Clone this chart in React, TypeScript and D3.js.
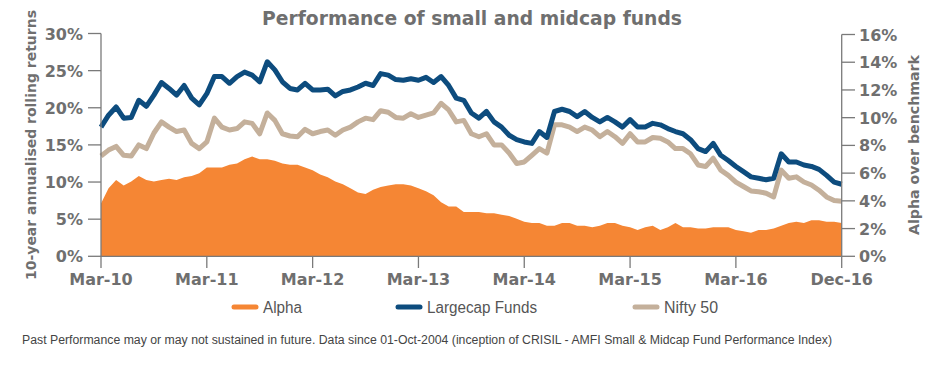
import React from 'react';
import * as d3 from 'd3';

// x axis labels (equally spaced over the series)
const xLabels = ['Mar-10', 'Mar-11', 'Mar-12', 'Mar-13', 'Mar-14', 'Mar-15', 'Mar-16', 'Dec-16'];
const leftTicks = [0, 5, 10, 15, 20, 25, 30];
const rightTicks = [0, 2, 4, 6, 8, 10, 12, 14, 16];

// 10-year annualised rolling returns (%), left axis
const largecap = [
  17.4, 19.0, 20.1, 18.6, 18.7, 21.0, 20.2, 21.7, 23.4, 22.6, 21.7, 23.0, 21.3, 20.4, 21.9, 24.2, 24.2, 23.3, 24.2, 24.8, 24.4, 23.5, 26.2, 25.1, 23.5,
  22.6, 22.4, 23.3, 22.4, 22.4, 22.5, 21.6, 22.2, 22.4, 22.8, 23.3, 23.0, 24.6, 24.4, 23.8, 23.7, 23.9, 23.7, 24.1, 23.4, 24.2, 23.0, 21.3, 21.0, 19.3,
  18.6, 19.5, 18.1, 17.4, 16.3, 15.7, 15.4, 15.2, 16.8, 16.0, 19.5, 19.8, 19.5, 18.8, 19.5, 18.7, 18.1, 18.7, 18.1, 17.4, 18.4, 17.4, 17.4, 17.9,
  17.7, 17.2, 16.8, 16.5, 15.7, 14.5, 14.1, 15.2, 13.6, 12.9, 12.1, 11.4, 10.7, 10.5, 10.3, 10.5, 13.8, 12.7, 12.7, 12.3, 12.1, 11.7, 10.9, 10.0, 9.7,
];
const nifty = [
  13.5, 14.3, 14.8, 13.6, 13.5, 15.0, 14.5, 16.6, 18.1, 17.4, 16.8, 17.0, 15.2, 14.5, 15.4, 18.6, 17.4, 17.0, 17.2, 18.1, 17.9, 16.5, 19.3, 18.3, 16.5,
  16.2, 16.1, 17.1, 16.5, 16.8, 17.0, 16.3, 17.0, 17.4, 18.1, 18.6, 18.4, 19.6, 19.4, 18.7, 18.6, 19.2, 18.7, 19.0, 19.3, 20.6, 19.7, 18.1, 18.3, 16.5,
  16.1, 16.5, 15.0, 15.0, 13.9, 12.5, 12.7, 13.6, 14.5, 13.9, 17.7, 17.7, 17.4, 16.8, 17.4, 17.0, 16.1, 16.8, 16.1, 15.2, 16.5, 15.4, 15.4, 16.0,
  15.9, 15.4, 14.5, 14.5, 13.8, 12.3, 12.1, 13.2, 11.6, 10.9, 10.0, 9.4, 8.8, 8.7, 8.5, 8.0, 11.6, 10.5, 10.7, 10.0, 9.6, 8.9, 8.0, 7.5, 7.4,
];
// alpha over benchmark (%), right axis
const alpha = [
  3.8, 4.9, 5.5, 5.1, 5.4, 5.8, 5.5, 5.4, 5.5, 5.6, 5.5, 5.7, 5.8, 6.0, 6.4, 6.4, 6.4, 6.6, 6.7, 7.0, 7.2, 7.0, 7.0, 6.9, 6.7,
  6.6, 6.6, 6.4, 6.2, 5.9, 5.7, 5.4, 5.2, 4.9, 4.6, 4.5, 4.8, 5.0, 5.1, 5.2, 5.2, 5.1, 4.9, 4.7, 4.4, 3.9, 3.6, 3.6, 3.2, 3.2,
  3.2, 3.1, 3.1, 3.0, 2.9, 2.7, 2.5, 2.4, 2.4, 2.2, 2.2, 2.4, 2.4, 2.2, 2.2, 2.1, 2.2, 2.4, 2.4, 2.2, 2.1, 1.9, 2.1, 2.2,
  1.9, 2.1, 2.4, 2.1, 2.1, 2.0, 2.0, 2.1, 2.1, 2.1, 1.9, 1.8, 1.7, 1.9, 1.9, 2.0, 2.2, 2.4, 2.5, 2.4, 2.6, 2.6, 2.5, 2.5, 2.4,
];

const legendItems = [
  { name: 'Alpha', color: '#f58634' },
  { name: 'Largecap Funds', color: '#0d4c7e' },
  { name: 'Nifty 50', color: '#c4b09b' },
];

const grey = '#6f6f6f';
const axisGrey = '#7a7a7a';
const font = '"DejaVu Sans", Verdana, sans-serif';

export default function App() {
  const n = largecap.length;
  const x = d3.scaleLinear().domain([0, n - 1]).range([101, 841.7]);
  const yL = d3.scaleLinear().domain([0, 30]).range([256.3, 33.5]);
  const yR = d3.scaleLinear().domain([0, 16]).range([256.3, 34.5]);
  const step = (n - 1) / (xLabels.length - 1);

  const area = d3.area<number>().x((_, i) => x(i)).y0(yR(0)).y1(d => yR(d));
  const line = d3.line<number>().x((_, i) => x(i)).y(d => yL(d));

  const legendX = [232, 396, 633];
  const legendW = [39, 110, 54];

  return (
    <svg width={936} height={367} style={{ position: 'absolute', left: 0, top: 0, background: '#fff' }} fontFamily={font}>
      <text x={472} y={25} textAnchor="middle" fontSize={20} fontWeight="bold" fill={grey} textLength={420} lengthAdjust="spacingAndGlyphs">
        Performance of small and midcap funds
      </text>

      <path d={area(alpha) || ''} fill="#f58634" />
      <path d={line(nifty) || ''} fill="none" stroke="#c4b09b" strokeWidth={5} strokeLinejoin="round" />
      <path d={line(largecap) || ''} fill="none" stroke="#0d4c7e" strokeWidth={5} strokeLinejoin="round" />

      {/* axes */}
      <line x1={101} x2={101} y1={yL(30)} y2={yL(0)} stroke={axisGrey} strokeWidth={1.3} />
      <line x1={841.7} x2={841.7} y1={yR(16)} y2={yR(0)} stroke={axisGrey} strokeWidth={1.3} />
      <line x1={101} x2={841.7} y1={yL(0)} y2={yL(0)} stroke={axisGrey} strokeWidth={1.3} />

      {leftTicks.map(t => (
        <g key={'l' + t}>
          <line x1={88} x2={101} y1={yL(t)} y2={yL(t)} stroke={axisGrey} strokeWidth={1.3} />
          <text x={83} y={yL(t) + 6} textAnchor="end" fontSize={16} fontWeight="bold" fill={grey}>{t}%</text>
        </g>
      ))}
      {rightTicks.map(t => (
        <g key={'r' + t}>
          <line x1={841.7} x2={855} y1={yR(t)} y2={yR(t)} stroke={axisGrey} strokeWidth={1.3} />
          <text x={859} y={yR(t) + 6} textAnchor="start" fontSize={16} fontWeight="bold" fill={grey}>{t}%</text>
        </g>
      ))}
      {xLabels.map((lab, i) => (
        <g key={lab}>
          <line x1={x(i * step)} x2={x(i * step)} y1={yL(0)} y2={268} stroke={axisGrey} strokeWidth={1.3} />
          <text x={x(i * step)} y={285} textAnchor="middle" fontSize={16} fontWeight="bold" fill={grey}>{lab}</text>
        </g>
      ))}

      <text transform="translate(36,145) rotate(-90)" textAnchor="middle" fontSize={14} fontWeight="bold" fill={grey} textLength={270} lengthAdjust="spacingAndGlyphs">
        10-year annualised rolling returns
      </text>
      <text transform="translate(919,145) rotate(-90)" textAnchor="middle" fontSize={14} fontWeight="bold" fill={grey} textLength={180} lengthAdjust="spacingAndGlyphs">
        Alpha over benchmark
      </text>

      {legendItems.map((it, i) => (
        <g key={it.name}>
          <line x1={legendX[i] + 2} x2={legendX[i] + 24} y1={307} y2={307} stroke={it.color} strokeWidth={5} strokeLinecap="round" />
          <text x={legendX[i] + 31} y={312.5} fontSize={16} fill="#555" fontFamily="'Liberation Sans Narrow', 'Liberation Sans', Arial, sans-serif" textLength={legendW[i]} lengthAdjust="spacingAndGlyphs">
            {it.name}
          </text>
        </g>
      ))}

      <text x={22} y={344} fontSize={12.5} fill="#444" fontFamily="'Liberation Sans Narrow', 'Liberation Sans', Arial, sans-serif" textLength={810} lengthAdjust="spacingAndGlyphs">
        Past Performance may or may not sustained in future. Data since 01-Oct-2004 (inception of CRISIL - AMFI Small &amp; Midcap Fund Performance Index)
      </text>
    </svg>
  );
}
